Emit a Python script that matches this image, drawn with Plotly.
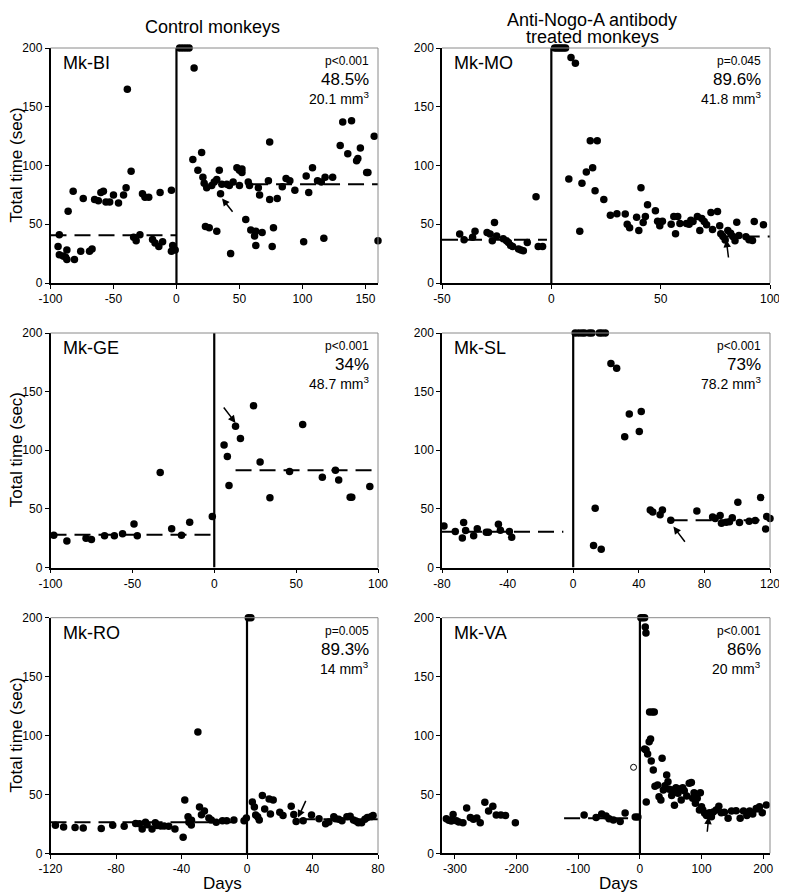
import plotly.graph_objects as go

# days relative to lesion / total time (sec)
bi_days = [-94, -93, -93, -90, -88, -87, -87, -86, -82, -81, -76, -74, -69, -67, -65, -62, -60, -58, -56, -53,
           -50, -46, -42, -40, -39, -36, -34, -32, -29, -27, -25, -22, -19, -17, -14, -13, -11, -4, -4, -3, -1,
           2.5, 5, 7.5, 10, 14, 13, 17, 20, 21, 22, 23, 24, 26, 28, 30, 32, 32, 34, 35, 36, 40, 42, 43, 45,
           48, 50, 50, 52, 52, 55, 57, 58, 59, 62, 63, 63, 65, 66, 68, 73, 74, 74, 76, 77, 80, 84, 87, 90, 94,
           101, 103, 105, 108, 112, 115, 117, 118, 124, 130, 132, 136, 139, 143, 144, 146, 151, 152, 157, 160]
bi_time = [31, 41, 24, 23, 22, 20, 28, 61, 78, 20, 27, 72, 27, 29, 71, 70, 77, 78, 69, 69,
           75, 68, 75, 81, 165, 95, 39, 36, 41, 76, 73, 73, 37, 34, 31, 77, 35, 79, 27, 32, 28,
           200, 200, 200, 200, 183, 105, 96, 111, 90, 85, 48, 81, 47, 83, 86, 88, 44, 96, 76, 84, 84, 83, 25, 86,
           98, 83, 96, 94, 97, 54, 86, 83, 45, 40, 32, 44, 81, 75, 43, 87, 120, 71, 31, 47, 72, 82, 89, 87, 79,
           35, 91, 77, 98, 87, 86, 38, 90, 90, 117, 137, 110, 138, 104, 106, 115, 94, 94, 125, 36]

mo_days = [-41.9, -39.9, -36, -34.9, -29.4, -28, -27, -26, -25, -22, -20.5, -19.6, -18.6, -17.7, -15, -13.9,
           -12.8, -11, -7, -6, -4,
           1.5, 2.5, 3.5, 4.5, 5.5, 6.5, 9, 11, 8, 13, 14, 16, 17.8, 18.9, 20, 21, 24, 27, 30, 33.8, 34.7, 35.8,
           39, 40, 41, 42, 43, 44, 47.6, 48.6, 49.6, 50.8, 54.8, 56, 56.8, 57.8, 58.8, 61.8, 63, 63.8, 64.8,
           66.8, 67.9, 68.8, 69.9, 71, 73, 73.7, 76, 77, 77.5, 78.5, 79.5, 80.7, 82, 83, 84, 84.8, 85.8, 89,
           90.4, 92, 92.8, 97]
mo_time = [41.6, 36.8, 39, 44, 43, 41.6, 36, 51.5, 40, 37.6, 36, 34.5, 32, 31, 29, 28,
           27.5, 34.5, 73.5, 31, 31,
           200, 200, 200, 200, 200, 200, 192, 187, 88.5, 44, 85, 94.5, 121, 98, 78.6, 121, 71, 57.7, 59, 58.8, 50, 47,
           56, 44.7, 81, 51.5, 56.6, 66.5, 61.4, 52.6, 48.7, 52.6, 50, 56.6, 42, 56.6, 50.6, 50.6, 50, 53.5, 52.3,
           56.6, 44.7, 55, 52.3, 49.5, 60, 45.5, 60.8, 48.7, 42, 39.6, 36.5, 44.7, 42.4, 39.6, 36, 51.8, 40.5, 39.3,
           36.8, 36.2, 52.3, 49.5]

ge_days = [-98, -90, -78.3, -75, -67, -61, -56, -49, -47, -33, -26, -20, -15, -1.2,
           6, 8, 9, 13, 16, 24, 28, 34, 46, 54, 66, 74, 76, 83, 84, 95]
ge_time = [27.6, 22.7, 25, 23.9, 27, 27, 28.7, 37.2, 27, 81, 33, 27.6, 38.6, 43.5,
           104.5, 94.6, 70, 120.5, 110, 138, 90, 59.4, 81.8, 122, 77, 83, 74.7, 60, 60, 69]

sl_days = [-78.8, -71.9, -66.8, -67.6, -65.6, -60.7, -58.5, -53, -51.7, -45.6, -44.4, -38.9, -37.5,
           1.2, 3.3, 5.3, 6.9, 9.8, 11.4, 15.9, 17.5, 19.6, 12.4, 13.4, 17.1, 23, 26.5, 31.4, 34.2, 40.3, 41.5,
           47, 48.5, 53, 54.4, 59.5, 75.4, 85, 86.6, 89.6, 90.4, 93.3, 95.3, 97, 100.4, 101.4, 107.3, 111,
           114.3, 117.3, 118, 120]
sl_time = [35.5, 30.6, 38.3, 25.2, 31.5, 27, 33, 30, 30, 36.9, 31.8, 30.6, 25.8,
           200, 200, 200, 200, 200, 200, 200, 200, 200, 18.7, 50.5, 15.6, 174, 170, 111.5, 131, 116, 133,
           49, 47.4, 45, 49, 40.3, 48.2, 43, 41.7, 44.3, 37.7, 38.6, 39, 42.5, 55.6, 38.3, 39.4, 40,
           59.6, 32.9, 43.4, 41.7]

ro_days = [-117, -112, -105, -100, -89, -82, -75, -68, -65.7, -64, -62, -61, -58, -56, -55, -52.7, -50.6,
           -47.8, -44, -39, -38, -36, -35.5, -34, -33.9, -30, -29, -27.8, -26, -23.3, -21.8, -18.8, -15,
           -12.4, -8, -1.8, -0.4,
           0.8, 2.4, 3.3, 4.5, 5.3, 6.5, 7.5, 9.4, 10.8, 13.5, 14.3, 16, 20, 22, 27, 28.6, 30, 34.3, 39.4, 44,
           48, 50, 53, 54, 56, 58, 61, 63, 65, 66.5, 68, 70, 72, 73.5, 75.7, 77]
ro_time = [23.8, 22.3, 22, 21.5, 21, 23.8, 23, 25.2, 25, 20.6, 26.3, 24.3, 20.6, 26, 23.5, 23.2, 23.2,
           23, 20.6, 13.6, 45.3, 31, 26.3, 24, 28, 103, 39.3, 32.8, 36, 30, 28.3, 26.3, 27.7,
           27.7, 28.3, 27.7, 30,
           200, 200, 43.6, 39.3, 32.5, 31, 28.3, 49, 37.6, 46, 33.4, 45.3, 34.8, 32, 40, 33, 27, 27.7, 32.5, 29.4,
           25, 26.6, 31, 29.4, 28.8, 27.7, 31, 31.4, 28.3, 27.4, 26, 26, 28.8, 30.3, 31, 32]

va_days = [-314, -310, -306, -303, -297.6, -293.8, -287, -281, -275, -270, -264.5, -259, -251.5, -245.5,
           -238.5, -233, -225.5, -218, -202, -90.5, -71, -62, -55, -50, -43, -32, -24, -7.6, -3.3,
           1.6, 4.3, 7.6, 8.7, 9.8, 7.6, 10, 12.5, 10.3, 15.7, 20, 23.3, 15, 17.3, 18.4, 21.7, 24.4, 28.7, 31,
           34, 36, 38, 40.6, 43.4, 45.5, 47.7, 51.5, 54, 56, 58.5, 61.8, 64, 67, 69.4, 72, 76, 80, 83.5, 85.6,
           87.8, 90, 93, 96.5, 98, 100, 102, 105, 108, 112.7, 116, 119, 123.6, 128, 132, 137, 143, 148.5, 156,
           162.6, 168, 173.4, 178, 183, 188.6, 194, 198.4, 205]
va_time = [29.4, 28, 27.4, 33, 27.7, 26.6, 26, 38.5, 30.3, 28.8, 30, 26, 43.3, 36,
           40, 32.5, 32.5, 32, 26, 32.5, 30.3, 33.4, 31.7, 29.4, 28.3, 27, 34.2, 30.8, 30.8,
           200, 200, 200, 192, 187, 88.5, 87.7, 84.3, 43.6, 120, 120, 120, 94.8, 97, 78.4, 70.7, 57, 58, 48,
           45.3, 80.6, 53.7, 57.4, 66.5, 60.8, 54.3, 49, 53.7, 40.7, 55.7, 51, 54.6, 45.3, 55.7, 53, 48.7, 59.4,
           60, 46.7, 51.5, 42.4, 46.7, 36.8, 51.5, 39.6, 36.8, 34, 32, 34.5, 31, 35, 36.8, 40, 34.5, 34.8, 29.7,
           36, 36.2, 29.7, 36, 32, 36, 33.4, 38, 39.6, 34.5, 41]
va_open = ([-10.3], [73])

# mean levels: [level, start day, end day]
bi_pre, bi_post = [40.7, -100, 0], [84, 60, 170]
mo_pre, mo_post = [36.8, -50, -2], [39.6, 77, 103]
ge_pre, ge_post = [28, -100, -1], [83, 13, 110]
sl_pre, sl_post = [30.4, -80, -6], [40.3, 60, 125]
ro_pre, ro_post = [26.3, -120, 0], [28.8, 32, 90]
va_pre, va_post = [29.7, -123, 0], [35.4, 100, 220]

# arrows: tail (x, y) -> tip (x, y)
bi_arrow = [45.5, 59.4, 36.2, 72]
mo_arrow = [81.1, 20.4, 80, 36.8]
ge_arrow = [5.1, 137.8, 13, 123.3]
sl_arrow = [68.8, 20.7, 61.1, 34.9]
ro_arrow = [36.3, 45.8, 31.2, 30.3]
va_arrow = [109, 17, 111.6, 31.1]

panels = [
    dict(name="Mk-BI", d=bi_days, t=bi_time, p="p<0.001", pct="48.5%", vol="20.1", xr=[-100, 160],
         ticks=[-100, -50, 0, 50, 100, 150], pre=bi_pre, post=bi_post, arrow=bi_arrow),
    dict(name="Mk-MO", d=mo_days, t=mo_time, p="p=0.045", pct="89.6%", vol="41.8", xr=[-50, 100],
         ticks=[-50, 0, 50, 100], pre=mo_pre, post=mo_post, arrow=mo_arrow),
    dict(name="Mk-GE", d=ge_days, t=ge_time, p="p<0.001", pct="34%", vol="48.7", xr=[-100, 100],
         ticks=[-100, -50, 0, 50, 100], pre=ge_pre, post=ge_post, arrow=ge_arrow),
    dict(name="Mk-SL", d=sl_days, t=sl_time, p="p<0.001", pct="73%", vol="78.2", xr=[-80, 120],
         ticks=[-80, -40, 0, 40, 80, 120], pre=sl_pre, post=sl_post, arrow=sl_arrow),
    dict(name="Mk-RO", d=ro_days, t=ro_time, p="p=0.005", pct="89.3%", vol="14", xr=[-120, 80],
         ticks=[-120, -80, -40, 0, 40, 80], pre=ro_pre, post=ro_post, arrow=ro_arrow),
    dict(name="Mk-VA", d=va_days, t=va_time, p="p<0.001", pct="86%", vol="20", xr=[-321, 211],
         ticks=[-300, -200, -100, 0, 100, 200], pre=va_pre, post=va_post, arrow=va_arrow),
]

# the page body has an 8px margin, so the figure is drawn 8px in from the window corner
OFF = 8
W, H = 787 - OFF, 894 - OFF
col_px = [(50.5, 378), (442, 770)]          # window pixels
row_px = [(48, 283), (333, 567.5), (617.7, 853.3)]
FONT = "Liberation Sans, Arial, sans-serif"
dash = "16px,8px"


def px_x(v):
    return (v - OFF) / W


def px_y(v):
    return 1 - (v - OFF) / H


fig = go.Figure()
shapes, annos = [], []
layout = {}

for i, p in enumerate(panels):
    assert len(p["d"]) == len(p["t"]), p["name"]
    r, c = divmod(i, 2)
    sfx = "" if i == 0 else str(i + 1)
    xa, ya = "x" + sfx, "y" + sfx
    x0, x1 = col_px[c]
    y0, y1 = row_px[r]
    axis_common = dict(showgrid=False, zeroline=False, showline=True, linecolor="black", linewidth=1.5,
                       ticks="outside", ticklen=4, tickwidth=1, tickcolor="black", automargin=False,
                       tickfont=dict(family=FONT, size=12, color="black"))
    layout["xaxis" + sfx] = dict(axis_common, domain=[px_x(x0), px_x(x1)], range=p["xr"], anchor=ya,
                                 tickvals=p["ticks"], ticktext=[str(v) for v in p["ticks"]])
    layout["yaxis" + sfx] = dict(axis_common, domain=[px_y(y1), px_y(y0)], range=[0, 200], anchor=xa,
                                 tickvals=[0, 50, 100, 150, 200])

    # grey top/right frame
    for sx0, sx1, sy0, sy1 in [(0, 1, 1, 1), (1, 1, 0, 1)]:
        shapes.append(dict(type="line", xref=xa + " domain", yref=ya + " domain",
                           x0=sx0, x1=sx1, y0=sy0, y1=sy1, line=dict(color="#8a8a8a", width=1)))

    # lesion day
    fig.add_trace(go.Scatter(x=[0, 0], y=[0, 200], mode="lines", line=dict(color="black", width=2.2),
                             xaxis=xa, yaxis=ya, hoverinfo="skip"))
    for lv in (p["pre"], p["post"]):
        fig.add_trace(go.Scatter(x=[lv[1], lv[2]], y=[lv[0], lv[0]], mode="lines",
                                 line=dict(color="black", width=2, dash=dash), xaxis=xa, yaxis=ya))
    fig.add_trace(go.Scatter(x=p["d"], y=p["t"], mode="markers", cliponaxis=False,
                             marker=dict(color="black", size=7.5), xaxis=xa, yaxis=ya))
    if p["name"] == "Mk-VA":
        fig.add_trace(go.Scatter(x=va_open[0], y=va_open[1], mode="markers",
                                 marker=dict(symbol="circle-open", color="black", size=6, line=dict(width=1)),
                                 xaxis=xa, yaxis=ya))

    a = p["arrow"]
    annos.append(dict(x=a[2], y=a[3], ax=a[0], ay=a[1], xref=xa, yref=ya, axref=xa, ayref=ya, text="",
                      showarrow=True, arrowhead=2, arrowsize=1, arrowwidth=1.5, arrowcolor="black"))

    annos.append(dict(x=0, y=0.936, xref=xa + " domain", yref=ya + " domain", xanchor="left", yanchor="middle",
                      xshift=10, text=p["name"], showarrow=False, font=dict(family=FONT, size=18, color="black")))
    for txt, yy, fs in [(p["p"], 0.945, 12), (p["pct"], 0.864, 17), (p["vol"] + " mm<sup>3</sup>", 0.787, 14)]:
        annos.append(dict(x=1, y=yy, xref=xa + " domain", yref=ya + " domain", xanchor="right",
                          yanchor="middle", xshift=-7, text=txt, showarrow=False,
                          font=dict(family=FONT, size=fs, color="black")))

# column headers and axis titles
head_font = dict(family=FONT, size=18, color="black")
title_font = dict(family=FONT, size=17, color="black")
for txt, x, y in [("Control monkeys", 212, 27), ("Anti-Nogo-A antibody", 592, 20), ("treated monkeys", 592, 37)]:
    annos.append(dict(x=px_x(x), y=px_y(y), xref="paper", yref="paper", text=txt, showarrow=False,
                      xanchor="center", yanchor="middle", font=head_font))
for x in (223, 618):
    annos.append(dict(x=px_x(x), y=px_y(883), xref="paper", yref="paper", text="Days", showarrow=False,
                      xanchor="center", yanchor="middle", font=title_font))
for r, (y0, y1) in enumerate(row_px):
    annos.append(dict(x=px_x(16), y=px_y((y0 + y1) / 2), xref="paper", yref="paper", text="Total time (sec)",
                      textangle=-90, showarrow=False, xanchor="center", yanchor="middle", font=title_font))

fig.update_layout(layout)
fig.update_layout(width=W, height=H, margin=dict(l=0, r=0, t=0, b=0), showlegend=False,
                  plot_bgcolor="white", paper_bgcolor="white", shapes=shapes, annotations=annos,
                  font=dict(family=FONT, color="black"))

fig.write_html("out.html")
